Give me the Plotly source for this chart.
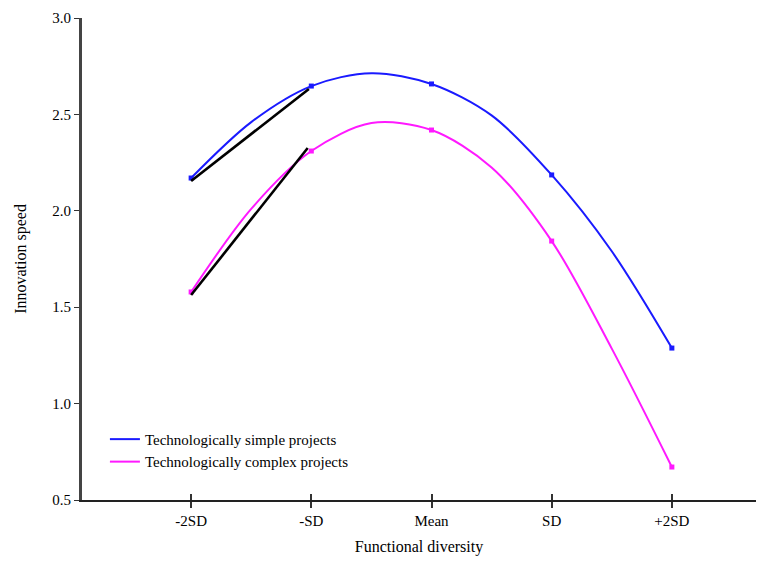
import plotly.graph_objects as go

# Categories (positions of functional diversity levels)
tick_pos = [-2, -1, 0, 1, 2]
tick_labels = ["-2SD", "-SD", "Mean", "SD", "+2SD"]

# Curve values read at half steps
curve_x = [-2, -1.5, -1, -0.5, 0, 0.5, 1, 1.5, 2]
simple_curve = [2.17, 2.46, 2.647, 2.714, 2.658, 2.495, 2.186, 1.79, 1.288]
complex_curve = [1.579, 2.01, 2.31, 2.455, 2.419, 2.225, 1.843, 1.285, 0.671]

# Marked points at the five levels
simple_pts = [2.17, 2.647, 2.658, 2.186, 1.288]
complex_pts = [1.579, 2.31, 2.419, 1.843, 0.671]

# Black slope segments
slope_simple_x = [-2, -1.02]
slope_simple_y = [2.155, 2.632]
slope_complex_x = [-2, -1.03]
slope_complex_y = [1.563, 2.326]

BLUE = "#1a1aff"
MAGENTA = "#ff19ff"
FONT = "Liberation Serif"

fig = go.Figure()

fig.add_trace(go.Scatter(x=curve_x, y=simple_curve, mode="lines",
                         line=dict(color=BLUE, width=2, shape="spline", smoothing=0.9),
                         name="Technologically simple projects"))
fig.add_trace(go.Scatter(x=curve_x, y=complex_curve, mode="lines",
                         line=dict(color=MAGENTA, width=2, shape="spline", smoothing=0.9),
                         name="Technologically complex projects"))
fig.add_trace(go.Scatter(x=tick_pos, y=simple_pts, mode="markers", marker=dict(color=BLUE, size=5, symbol="square"),
                         showlegend=False))
fig.add_trace(go.Scatter(x=tick_pos, y=complex_pts, mode="markers", marker=dict(color=MAGENTA, size=5, symbol="square"),
                         showlegend=False))
fig.add_trace(go.Scatter(x=slope_simple_x, y=slope_simple_y, mode="lines", line=dict(color="black", width=2.6),
                         showlegend=False))
fig.add_trace(go.Scatter(x=slope_complex_x, y=slope_complex_y, mode="lines", line=dict(color="black", width=2.6),
                         showlegend=False))

xr = [-2.908, 2.70]

fig.update_layout(
    width=748, height=548,
    margin=dict(l=74, r=0, t=10, b=56),
    paper_bgcolor="white", plot_bgcolor="white",
    font=dict(family=FONT, size=14, color="black"),
    xaxis=dict(range=xr, tickmode="array", tickvals=tick_pos, ticktext=tick_labels,
               showgrid=False, zeroline=False, showline=True, linecolor="#222", linewidth=2,
               ticks="outside", ticklen=6, tickwidth=2, tickcolor="#333",
               tickfont=dict(family=FONT, size=15),
               title=dict(text="Functional diversity", font=dict(family=FONT, size=16), standoff=16)),
    xaxis2=dict(range=xr, overlaying="x", anchor="y", side="bottom", tickmode="array", tickvals=tick_pos,
                showticklabels=False, showgrid=False, zeroline=False, showline=False,
                ticks="inside", ticklen=6, tickwidth=2, tickcolor="#333"),
    yaxis=dict(range=[0.5, 3.0], tickmode="array", tickvals=[0.5, 1.0, 1.5, 2.0, 2.5, 3.0],
               ticktext=["0.5", "1.0", "1.5", "2.0", "2.5", "3.0"],
               showgrid=False, zeroline=False, showline=True, linecolor="#444", linewidth=3,
               ticks="outside", ticklen=5, tickwidth=1, tickcolor="#333",
               tickfont=dict(family=FONT, size=15),
               title=dict(text="Innovation speed", font=dict(family=FONT, size=16), standoff=22)),
    legend=dict(x=0.034, y=0.16, xanchor="left", yanchor="top", bgcolor="rgba(0,0,0,0)",
                font=dict(family=FONT, size=15), tracegroupgap=0, itemwidth=30),
)

# invisible trace so xaxis2 ticks render
fig.add_trace(go.Scatter(x=[0], y=[None], xaxis="x2", showlegend=False, hoverinfo="skip"))

fig.write_html("out.html")
